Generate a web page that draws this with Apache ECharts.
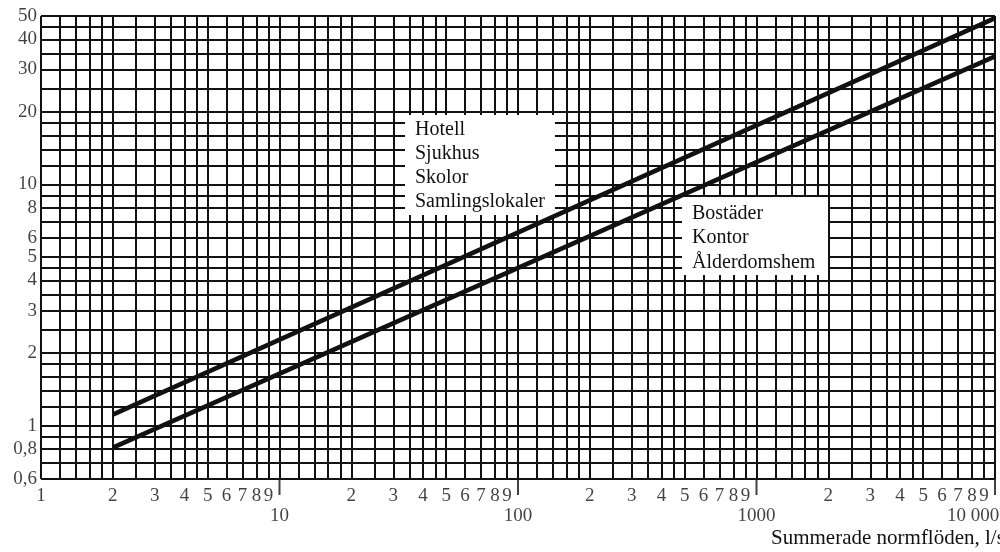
<!DOCTYPE html>
<html>
<head>
<meta charset="utf-8">
<script src="https://cdn.jsdelivr.net/npm/echarts@6/dist/echarts.min.js"></script>
<style>
  html, body { margin: 0; padding: 0; background: #fff; }
  #chart { width: 1000px; height: 552px; }
</style>
</head>
<body>
<div id="chart"></div>
<script>
// Dimensioning flow vs. summed normal flows, log-log paper

// grid paper: steps repeated in every decade
const decades = [1, 10, 100, 1000];
const gridSteps = [1, 1.2, 1.4, 1.6, 1.8, 2, 2.5, 3, 3.5, 4, 4.5, 5, 6, 7, 8, 9];
const xEnd = 10000;
const yGridValues = [0.6, 0.7, 0.8, 0.9, 1, 1.2, 1.4, 1.6, 1.8, 2, 2.5, 3, 3.5, 4, 4.5, 5, 6, 7, 8, 9,
                     10, 12, 14, 16, 18, 20, 25, 30, 35, 40, 45, 50];

// tick labels
const xDigitLabels = [1, 2, 3, 4, 5, 6, 7, 8, 9,
                      20, 30, 40, 50, 60, 70, 80, 90,
                      200, 300, 400, 500, 600, 700, 800, 900,
                      2000, 3000, 4000, 5000, 6000, 7000, 8000, 9000];
const xDecadeLabels = [10, 100, 1000, 10000];
const yLabelValues = [0.6, 0.8, 1, 2, 3, 4, 5, 6, 8, 10, 20, 30, 40, 50];

// the two design curves (endpoints)
const upperGroup = ['Hotell', 'Sjukhus', 'Skolor', 'Samlingslokaler'];
const upperLine = [[2, 1.11], [10000, 49]];
const lowerGroup = ['Bostäder', 'Kontor', 'Ålderdomshem'];
const lowerLine = [[2, 0.81], [10000, 34]];

const axisTitle = 'Summerade normflöden, l/s';

const xGridValues = decades
  .flatMap(d => gridSteps.map(s => +(s * d).toPrecision(6)))
  .concat([xEnd]);

const SERIF = '"Liberation Serif", "DejaVu Serif", serif';
const INK = '#111';

const gridLineStyle = { color: INK, width: 2, type: 'solid' };

const chart = echarts.init(document.getElementById('chart'), null, { renderer: 'canvas' });

const labelBase = { show: true, color: INK, fontFamily: SERIF, fontSize: 19 };

chart.setOption({
  animation: false,
  backgroundColor: '#fff',
  grid: { left: 41, top: 16, width: 954, height: 463, containLabel: false },
  xAxis: {
    type: 'log', logBase: 10, min: 1, max: 10000,
    axisLine: { show: false }, axisTick: { show: false },
    axisLabel: { show: false }, splitLine: { show: false }, minorSplitLine: { show: false }
  },
  yAxis: {
    type: 'log', logBase: 10, min: 0.6, max: 50,
    axisLine: { show: false }, axisTick: { show: false },
    axisLabel: { show: false }, splitLine: { show: false }, minorSplitLine: { show: false }
  },
  graphic: [
    { type: 'rect', z: 3, shape: { x: 405, y: 115, width: 150, height: 100 }, style: { fill: '#fff' } },
    { type: 'text', z: 4, x: 415, y: 118,
      style: { text: upperGroup.join('\n'), fill: INK, fontFamily: SERIF, fontSize: 20, lineHeight: 24 } },
    { type: 'rect', z: 3, shape: { x: 682, y: 197, width: 146, height: 78 }, style: { fill: '#fff' } },
    { type: 'text', z: 4, x: 692, y: 201,
      style: { text: lowerGroup.join('\n'), fill: INK, fontFamily: SERIF, fontSize: 20, lineHeight: 24.5 } },
    { type: 'text', z: 4, x: 771, y: 528,
      style: { text: axisTitle, fill: INK, fontFamily: SERIF, fontSize: 21 } }
  ],
  series: [
    {
      // graph paper
      name: 'paper', type: 'line', data: [], silent: true, z: 1,
      markLine: {
        z: 1, silent: true, symbol: 'none', animation: false,
        label: { show: false }, emphasis: { disabled: true },
        lineStyle: gridLineStyle,
        data: xGridValues.map(v => ({ xAxis: v }))
          .concat(yGridValues.map(v => ({ yAxis: v })))
      }
    },
    {
      name: upperGroup.join(', '), type: 'line', data: upperLine, z: 10,
      symbol: 'none', silent: true,
      lineStyle: { color: INK, width: 4.5, cap: 'butt' }
    },
    {
      name: lowerGroup.join(', '), type: 'line', data: lowerLine, z: 10,
      symbol: 'none', silent: true,
      lineStyle: { color: INK, width: 4.5, cap: 'butt' }
    },
    {
      // digit labels under each grid line
      type: 'scatter', silent: true, clip: false, z: 6, symbolSize: 0,
      data: xDigitLabels.map(v => [v, 0.6]),
      label: Object.assign({}, labelBase, {
        position: 'bottom', distance: 8,
        formatter: p => String(p.value[0]).replace(/0+$/, '') || '1'
      })
    },
    {
      // decade labels, second row
      type: 'scatter', silent: true, clip: false, z: 6, symbolSize: 0,
      data: xDecadeLabels.map(v => ({
        value: [v, 0.6],
        label: v >= 10000 ? { offset: [-22, 0] } : {}
      })),
      label: Object.assign({}, labelBase, {
        position: 'bottom', distance: 28,
        formatter: p => p.value[0] >= 10000 ? '10 000' : String(p.value[0])
      })
    },
    {
      // decade tick marks hanging below the frame
      type: 'scatter', silent: true, clip: false, z: 6,
      symbol: 'rect', symbolSize: [2, 16], symbolOffset: [0, 8],
      itemStyle: { color: INK },
      data: xDecadeLabels.map(v => [v, 0.6])
    },
    {
      // y tick labels
      type: 'scatter', silent: true, clip: false, z: 6, symbolSize: 0,
      data: yLabelValues.map(v => [1, v]),
      label: Object.assign({}, labelBase, {
        position: 'left', distance: 4,
        formatter: p => String(p.value[1]).replace('.', ',')
      })
    }
  ]
});
</script>
</body>
</html>
